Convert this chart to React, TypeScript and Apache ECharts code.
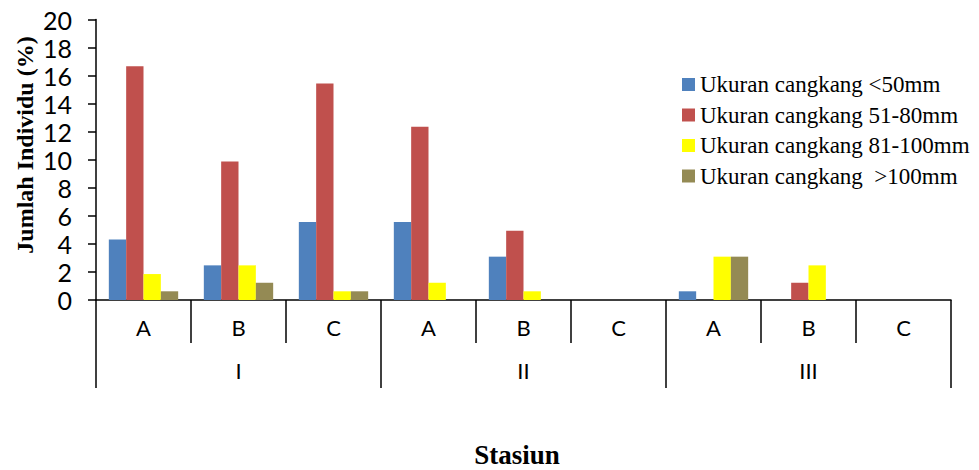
import React, { useEffect, useRef } from "react";
import * as echarts from "echarts";

const subCategories = ["A", "B", "C", "A", "B", "C", "A", "B", "C"];
const stations = ["I", "II", "III"];
const seriesNames = [
  "Ukuran cangkang <50mm",
  "Ukuran cangkang 51-80mm",
  "Ukuran cangkang 81-100mm",
  "Ukuran cangkang  >100mm",
];
const under50 = [4.32, 2.47, 5.56, 5.56, 3.09, 0, 0.62, 0, 0];
const from51to80 = [16.67, 9.88, 15.43, 12.35, 4.94, 0, 0, 1.23, 0];
const from81to100 = [1.85, 2.47, 0.62, 1.23, 0.62, 0, 3.09, 2.47, 0];
const over100 = [0.62, 1.23, 0.62, 0, 0, 0, 3.09, 0, 0];
const colors = ["#4F81BD", "#C0504D", "#FFFF00", "#948A54"];
const yTitle = "Jumlah Individu (%)";
const xTitle = "Stasiun";

export default function App() {
  const ref = useRef<HTMLDivElement>(null);
  useEffect(() => {
    if (!ref.current) return;
    const chart = echarts.init(ref.current, null, { renderer: "svg" });
    const values = [under50, from51to80, from81to100, over100];
    const sans = "Lato";
    const serif = "Liberation Serif";
    chart.setOption({
      animation: false,
      backgroundColor: "#ffffff",
      grid: { left: 96, right: 28, top: 19.5, bottom: 170, containLabel: false },
      legend: {
        orient: "vertical",
        left: 677,
        top: 68,
        itemWidth: 13,
        itemHeight: 13,
        itemGap: 7.5,
        icon: "rect",
        data: seriesNames,
        textStyle: { fontFamily: serif, fontSize: 23, color: "#000", padding: [0, 0, 0, 0] },
      },
      xAxis: [
        {
          type: "category",
          data: subCategories,
          position: "bottom",
          axisLine: { show: true, lineStyle: { color: "#000", width: 1.5 } },
          axisTick: { show: true, length: 43, interval: 0, lineStyle: { color: "#000", width: 1.5 } },
          axisLabel: { interval: 0, margin: 16, fontFamily: sans, fontSize: 22, color: "#000" },
        },
        {
          type: "category",
          data: stations,
          position: "bottom",
          offset: 43,
          axisLine: { show: false },
          axisTick: { show: true, length: 45, interval: 0, lineStyle: { color: "#000", width: 1.5 } },
          axisLabel: { interval: 0, margin: 16, fontFamily: sans, fontSize: 22, color: "#000" },
        },
      ],
      yAxis: {
        type: "value",
        min: 0,
        max: 20,
        interval: 2,
        splitLine: { show: false },
        axisLine: { show: true, lineStyle: { color: "#000", width: 1.5 } },
        axisTick: { show: true, length: 8, inside: false, lineStyle: { color: "#000", width: 1.5 } },
        axisLabel: { margin: 24, fontFamily: sans, fontSize: 25, color: "#000" },
      },
      series: seriesNames.map((name, i) => ({
        name,
        type: "bar",
        xAxisIndex: 0,
        data: values[i],
        barGap: "0%",
        barCategoryGap: "27%",
        itemStyle: { color: colors[i] },
      })),
      graphic: [
        {
          type: "text",
          x: 25,
          y: 145,
          rotation: Math.PI / 2,
          style: {
            text: yTitle,
            fontFamily: serif,
            fontWeight: "bold",
            fontSize: 24,
            fill: "#000",
            align: "center",
            verticalAlign: "middle",
          },
        },
        {
          type: "text",
          x: 517,
          y: 455,
          style: {
            text: xTitle,
            fontFamily: serif,
            fontWeight: "bold",
            fontSize: 27,
            fill: "#000",
            align: "center",
            verticalAlign: "middle",
          },
        },
      ],
    });
    return () => chart.dispose();
  }, []);
  return (
    <div
      ref={ref}
      style={{ position: "fixed", left: 0, top: 0, width: 979, height: 470 }}
    />
  );
}
